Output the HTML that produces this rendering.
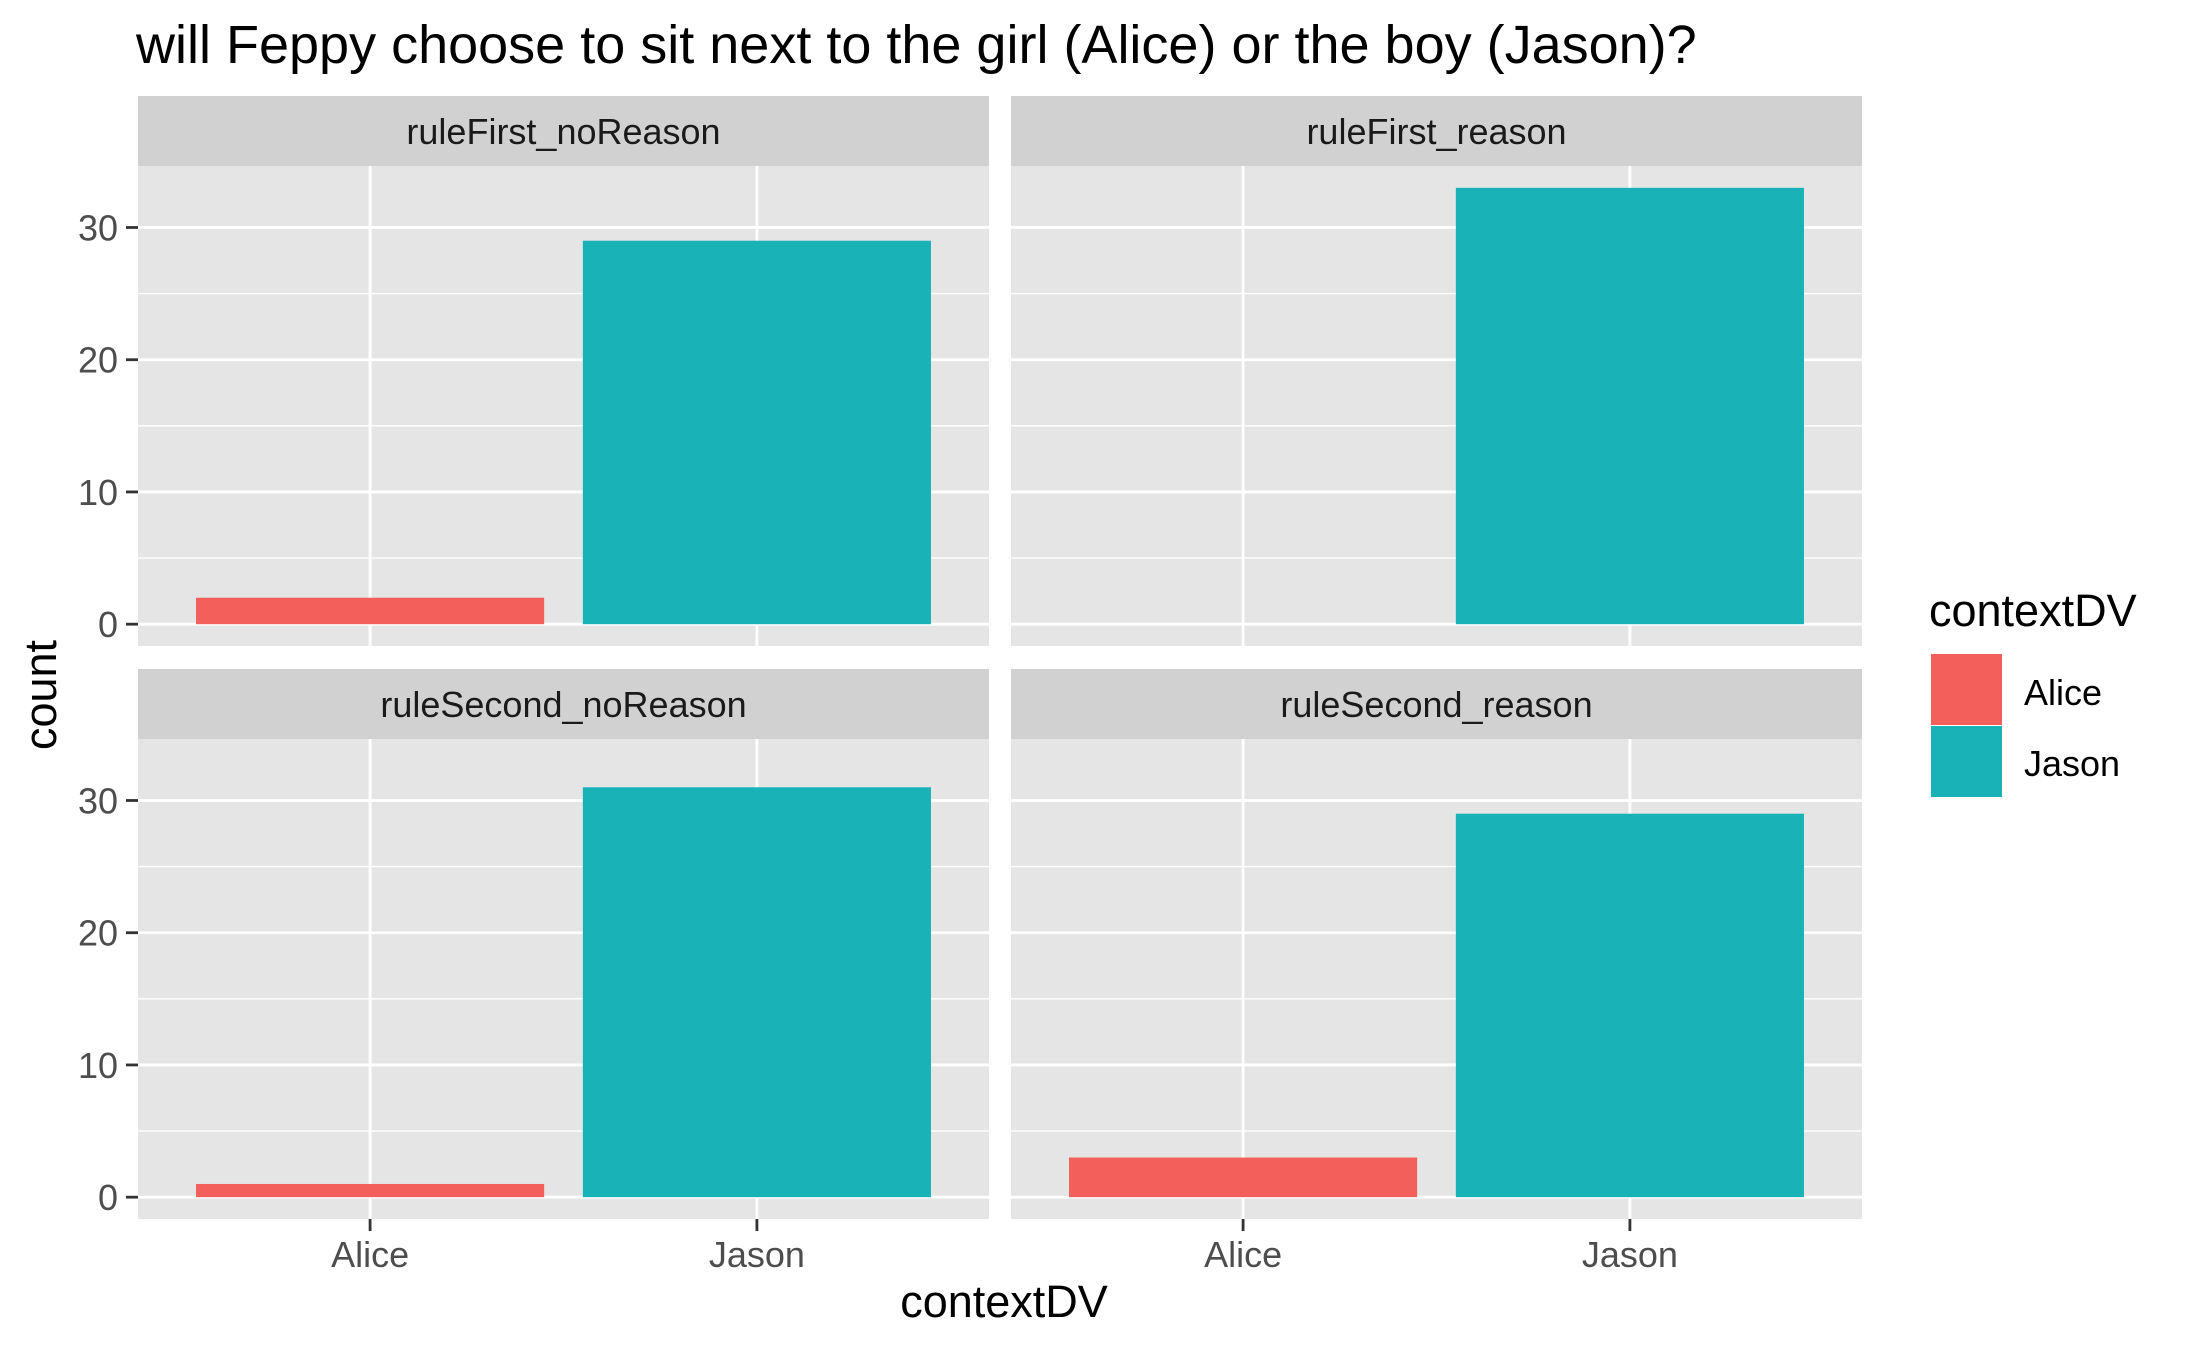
<!DOCTYPE html>
<html><head><meta charset="utf-8"><style>
html,body{margin:0;padding:0;background:#fff}
svg{display:block;font-family:"Liberation Sans",Arial,sans-serif}
</style></head><body>
<svg id="chart" width="2187" height="1351" viewBox="0 0 2187 1351" xmlns="http://www.w3.org/2000/svg">
<rect width="2187" height="1351" fill="#fff"/>
<text x="136" y="63" font-size="54" fill="#000">will Feppy choose to sit next to the girl (Alice) or the boy (Jason)?</text>
<text transform="translate(56,695) rotate(-90)" text-anchor="middle" font-size="45" fill="#000">count</text>
<text x="1004" y="1317" text-anchor="middle" font-size="45" fill="#000">contextDV</text>
<g>
<text x="1929" y="626" font-size="45" fill="#000">contextDV</text>
<rect x="1931" y="654" width="71" height="71" fill="#F35F5A"/>
<rect x="1931" y="726" width="71" height="71" fill="#19B3B7"/>
<text x="2024" y="705" font-size="36" fill="#000">Alice</text>
<text x="2024" y="776" font-size="36" fill="#000">Jason</text>
</g>
<g id="panels"></g>
</svg>
<script>
const facets = ["ruleFirst_noReason","ruleFirst_reason","ruleSecond_noReason","ruleSecond_reason"];
const categories = ["Alice","Jason"];
const aliceCounts = [2, 0, 1, 3];
const jasonCounts = [29, 33, 31, 29];
const yTicks = [0, 10, 20, 30];
const yMinor = [5, 15, 25];

const NS = "http://www.w3.org/2000/svg";
const colors = ["#F35F5A", "#19B3B7"];
const root = document.getElementById("panels");
const panelX = [138, 1011];
const panelW = 851;
const stripTop = [96, 669];
const stripH = 70;
const plotH = 480;
const yMin = -1.65, yMax = 34.65;

function mk(tag, attrs, parent) {
  const e = document.createElementNS(NS, tag);
  for (const k in attrs) e.setAttribute(k, attrs[k]);
  parent.appendChild(e);
  return e;
}

facets.forEach((f, i) => {
  const col = i % 2, row = Math.floor(i / 2);
  const x0 = panelX[col], st = stripTop[row], top = st + stripH, bot = top + plotH;
  const yS = v => bot - (v - yMin) / (yMax - yMin) * plotH;
  const xS = k => x0 + (k + 1 - 0.4) / 2.2 * panelW;
  const g = mk("g", {}, root);
  
  
  const strip = mk("rect", {x: x0, y: st, width: panelW, height: stripH, fill: "#D1D1D1"}, g);
  
  
  const st2 = mk("text", {x: x0 + panelW / 2, y: st + 48, "text-anchor": "middle", "font-size": 36, fill: "#1A1A1A"}, g);
  st2.textContent = f;
  
  
  const bg = mk("rect", {x: x0, y: top, width: panelW, height: plotH, fill: "#E5E5E5"}, g);
  
  
  yMinor.forEach(v => {
    const l = mk("line", {x1: x0, x2: x0 + panelW, y1: yS(v), y2: yS(v), stroke: "#fff", "stroke-width": 1.4}, g);
    
    
  });
  yTicks.forEach(v => {
    const l = mk("line", {x1: x0, x2: x0 + panelW, y1: yS(v), y2: yS(v), stroke: "#fff", "stroke-width": 2.8}, g);
    
    
  });
  categories.forEach((c, k) => {
    const l = mk("line", {x1: xS(k), x2: xS(k), y1: top, y2: bot, stroke: "#fff", "stroke-width": 2.8}, g);
    
    
  });
  const vals = [aliceCounts[i], jasonCounts[i]];
  vals.forEach((v, k) => {
    if (v <= 0) return;
    const hw = 0.45 / 2.2 * panelW;
    const b = mk("rect", {x: xS(k) - hw, y: yS(v), width: 2 * hw, height: yS(0) - yS(v), fill: colors[k]}, g);
    
    
  });
  if (col === 0) {
    yTicks.forEach(v => {
      const t = mk("line", {x1: x0 - 12, x2: x0, y1: yS(v), y2: yS(v), stroke: "#333", "stroke-width": 2.8}, g);
      
      
      const tl = mk("text", {x: x0 - 20, y: yS(v) + 13, "text-anchor": "end", "font-size": 36, fill: "#4D4D4D"}, g);
      tl.textContent = v;
      
      
    });
  }
  if (row === 1) {
    categories.forEach((c, k) => {
      const t = mk("line", {x1: xS(k), x2: xS(k), y1: bot, y2: bot + 12, stroke: "#333", "stroke-width": 2.8}, g);
      
      
      const tl = mk("text", {x: xS(k), y: bot + 48, "text-anchor": "middle", "font-size": 36, fill: "#4D4D4D"}, g);
      tl.textContent = c;
      
      
    });
  }
});
</script>
</body></html>
